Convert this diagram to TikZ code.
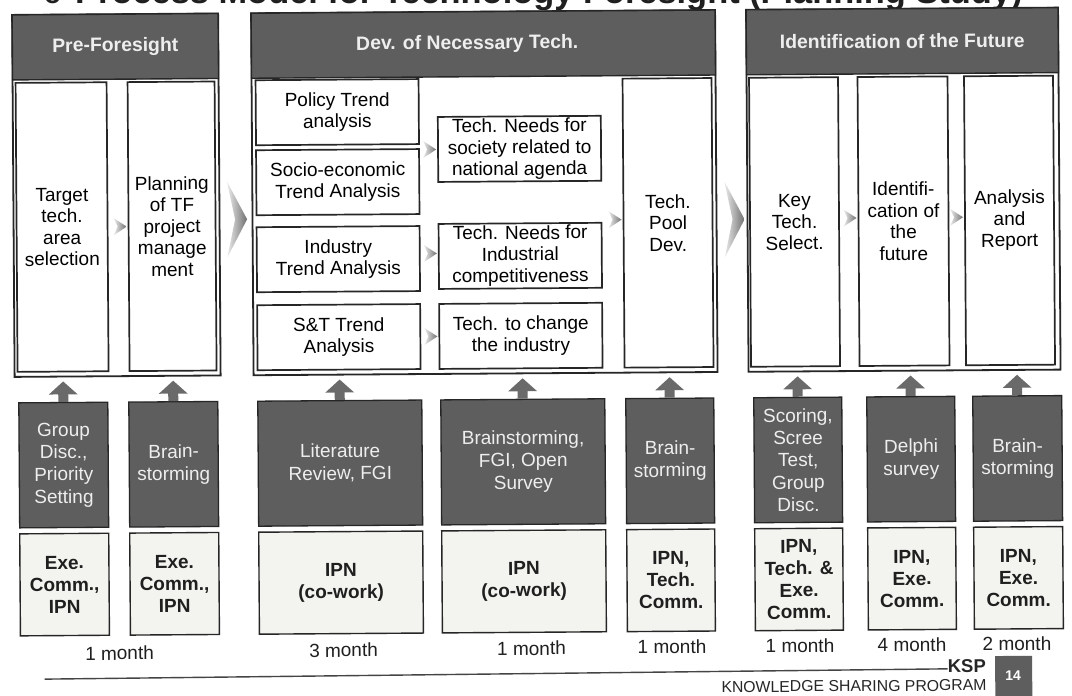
\documentclass[tikz,border=0pt]{standalone}
\usepackage{fontspec}
\setmainfont{Liberation Sans}
\usetikzlibrary{calc,arrows.meta}

\definecolor{ink}{HTML}{262626}
\definecolor{slate}{HTML}{5E5E5E}
\definecolor{paper}{HTML}{F3F3EF}
\definecolor{arrowgray}{HTML}{6A6A6A}
\definecolor{pale}{HTML}{EEEEEE}
\definecolor{rulegray}{HTML}{444444}

% chevron: tip anchor, half height, width, notch depth
\newcommand\chevronmark[4]{%
  \shade[left color=white!85!gray, right color=gray!88!black]
    (#1) ++(-#3,-#2) -- ++(#3,#2) -- ++(-#3,#2) -- ++(#4,-#2) -- cycle;}

\tikzset{
  dims/.style 2 args={minimum width=#1pt, minimum height=#2pt},
  frame/.style={draw=ink, line width=1.8pt, fill=white, inner sep=0pt},
  header/.style={draw=ink, line width=1.4pt, fill=slate, inner sep=0pt},
  headtext/.style={text=pale, inner sep=0pt, font=\bfseries\fontsize{19.4}{21}\selectfont},
  stage/.style={draw=ink, line width=1.7pt, fill=white, align=center, inner sep=0pt,
    font=\fontsize{19}{21.5}\selectfont},
  method/.style={draw=ink, line width=1.3pt, fill=slate, text=pale, align=center, inner sep=0pt,
    font=\fontsize{19}{22.3}\selectfont},
  actor/.style={draw=ink, line width=1.4pt, fill=paper, text=black!88, align=center, inner sep=0pt,
    font=\bfseries\fontsize{19}{22}\selectfont},
  period/.style={text=black!88, inner sep=0pt, font=\fontsize{19}{21}\selectfont},
  uparr/.style={draw=arrowgray, line width=10pt, -{Triangle[width=28pt,length=13pt]}, shorten >=4pt},
}

\begin{document}
\begin{tikzpicture}[x=1pt,y=-1pt]
\useasboundingbox (0,0) rectangle (1072,696);
\clip (0,0) rectangle (1072,696);
\fill[white] (0,0) rectangle (1072,696);

% heading line (only its lower edge lies on the page)
\node[anchor=base west, inner sep=0pt, text=black!88, font=\bfseries\fontsize{28}{30}\selectfont]
  (bullet) at (44,3.5) {o};
\node[anchor=base west, inner sep=0pt, text=black!88, font=\bfseries\fontsize{34.4}{36}\selectfont]
  (title) at (75,3.5) {Process Model for Technology Foresight (Planning Study)};

\begin{scope}[rotate=0.4, transform shape]
  % phase frames and their headers
  \node[frame, dims={206}{362}] (pre) at (115,196) {};
  \node[frame, dims={464}{362}] (dev) at (483,196) {};
  \node[frame, dims={312}{362}] (idn) at (902,196) {};
  \node[header, dims={206}{65}] (prehd) at (115,47.5) {};
  \node[header, dims={464}{65}] (devhd) at (483,47.5) {};
  \node[header, dims={312}{65}] (idnhd) at (902,47.5) {};
  \node[headtext] (pretitle) at (prehd.center) {Pre-Foresight};
  \node[headtext] (devtitle) at ([xshift=-16pt]devhd.center) {Dev. of Necessary Tech.};
  \node[headtext] (idntitle) at (idnhd.center) {Identification of the Future};

  % steps inside the frames
  \node[stage, dims={91}{289}] (target) at (60.5,227.5) {Target\\tech.\\area\\selection};
  \node[stage, dims={87}{289}] (plan) at (170.5,227.5) {Planning\\of TF\\project\\manage\\ment};

  \node[stage, dims={163}{65}] (policy) at (336.5,114.5) {Policy Trend\\analysis};
  \node[stage, dims={163}{65}] (socio) at (336.5,184.5) {Socio-economic\\Trend Analysis};
  \node[stage, dims={163}{65}] (industry) at (336.5,261.5) {Industry\\Trend Analysis};
  \node[stage, dims={163}{65}] (snt) at (336.5,339.5) {S\&T Trend\\Analysis};
  \node[stage, dims={163}{65}] (society) at (518.5,152.5) {Tech. Needs for\\society related to\\national agenda};
  \node[stage, dims={163}{65}] (indneed) at (518.5,259.5) {Tech. Needs for\\Industrial\\competitiveness};
  \node[stage, dims={163}{65}] (change) at (518.5,339.5) {Tech. to change\\the industry};
  \node[stage, dims={89}{289}] (pool) at (666.5,227.5) {Tech.\\Pool\\Dev.};

  \node[stage, dims={89}{289}] (key) at (793,227.5) {Key\\Tech.\\Select.};
  \node[stage, dims={90}{289}] (idf) at (902,227.5) {Identifi-\\cation of\\the\\future};
  \node[stage, dims={89}{289}] (ana) at (1008,227.5) {Analysis\\and\\Report};

  % flow chevrons
  \chevronmark{[xshift=-1pt]plan.west}{8.5}{13}{4}
  \chevronmark{[xshift=-1pt]society.west}{8.5}{13}{4}
  \chevronmark{[xshift=-1pt,yshift=3pt]indneed.west}{8.5}{13}{4}
  \chevronmark{[xshift=-1pt]change.west}{8.5}{13}{4}
  \chevronmark{[xshift=-1pt,yshift=3.5pt]pool.west}{8.5}{13}{4}
  \chevronmark{[xshift=-1pt,yshift=3.5pt]idf.west}{8.5}{13}{4}
  \chevronmark{[xshift=-1pt,yshift=3.5pt]ana.west}{8.5}{13}{4}
  \chevronmark{[xshift=-4.5pt,yshift=-25pt]dev.west}{38}{20}{8}
  \chevronmark{[xshift=-2pt,yshift=-28.5pt]idn.west}{38}{20}{8}

  % methods
  \node[method, dims={89}{125}] (m1) at (60.5,465.5) {Group\\Disc.,\\Priority\\Setting};
  \node[method, dims={89}{125}] (m2) at (170.5,465.5) {Brain-\\storming};
  \node[method, dims={164}{125}] (m3) at (337,465.5) {Literature\\Review, FGI};
  \node[method, dims={164}{125}] (m4) at (520,465.5) {Brainstorming,\\FGI, Open\\Survey};
  \node[method, dims={88}{125}] (m5) at (667,465.5) {Brain-\\storming};
  \node[method, dims={88}{125}] (m6) at (795,465.5) {Scoring,\\Scree\\Test,\\Group\\Disc.};
  \node[method, dims={88}{125}] (m7) at (908,465.5) {Delphi\\survey};
  \node[method, dims={89}{125}] (m8) at (1014.5,465.5) {Brain-\\storming};

  % participants
  \node[actor, dims={89}{102}] (a1) at (60.5,585) {Exe.\\Comm.,\\IPN};
  \node[actor, dims={89}{102}] (a2) at (170.5,585) {Exe.\\Comm.,\\IPN};
  \node[actor, dims={164}{102}] (a3) at (337,585) {IPN\\(co-work)};
  \node[actor, dims={164}{102}] (a4) at (520,585) {IPN\\(co-work)};
  \node[actor, dims={88}{102}] (a5) at (667,585) {IPN,\\Tech.\\Comm.};
  \node[actor, dims={88}{102}] (a6) at (795,585) {IPN,\\Tech. \&\\Exe.\\Comm.};
  \node[actor, dims={88}{102}] (a7) at (908,585) {IPN,\\Exe.\\Comm.};
  \node[actor, dims={89}{102}] (a8) at (1014.5,585) {IPN,\\Exe.\\Comm.};

  % durations
  \node[period] (t1) at (115,654) {1 month};
  \node[period] (t2) at (339,652.5) {3 month};
  \node[period] (t3) at (527,652) {1 month};
  \node[period] (t4) at (667.5,651.5) {1 month};
  \node[period] (t5) at (795.5,651) {1 month};
  \node[period] (t6) at (907.5,651) {4 month};
  \node[period] (t7) at (1012.5,651) {2 month};

  % methods feed the steps above
  \draw[uparr] (m1.north) -- (m1.north |- pre.south);
  \draw[uparr] (m2.north) -- (m2.north |- pre.south);
  \draw[uparr] (m3.north) -- (m3.north |- dev.south);
  \draw[uparr] (m4.north) -- (m4.north |- dev.south);
  \draw[uparr] (m5.north) -- (m5.north |- dev.south);
  \draw[uparr] (m6.north) -- (m6.north |- idn.south);
  \draw[uparr] (m7.north) -- (m7.north |- idn.south);
  \draw[uparr] (m8.north) -- (m8.north |- idn.south);

  % footer
  \node[anchor=base west, inner sep=0pt, text=black!85, font=\bfseries\fontsize{18.5}{19}\selectfont]
    (ksp) at (943,679.5) {KSP};
  \coordinate (footstart) at (40,679.5);
  \draw[rulegray, line width=1.4pt] (footstart) -- ([yshift=4pt]ksp.base west);
  \node[anchor=base east, inner sep=0pt, text=black!85, font=\fontsize{15.8}{16}\selectfont]
    (kspname) at (982,697.5) {KNOWLEDGE SHARING PROGRAM};
  \node[fill=slate, dims={37}{40}, inner sep=0pt] (pagebox) at (1009,683) {};
  \node[text=white, inner sep=0pt, font=\bfseries\fontsize{14}{15}\selectfont]
    (pagenum) at (1008.5,683) {14};
\end{scope}
\end{tikzpicture}
\end{document}
